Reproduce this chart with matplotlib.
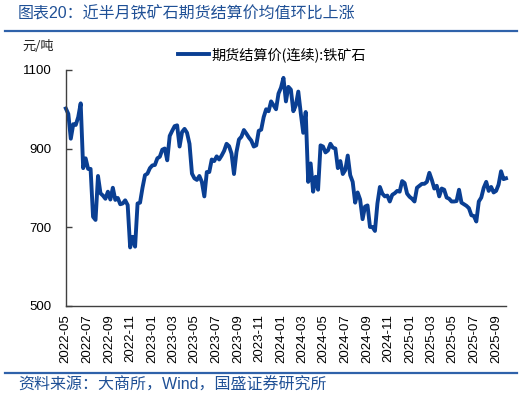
import matplotlib
matplotlib.use("Agg")
import matplotlib.pyplot as plt
import pandas as pd

plt.rcParams['font.family'] = ['Liberation Sans', 'Noto Sans CJK SC', 'DejaVu Sans']

title = "图表20：近半月铁矿石期货结算价均值环比上涨"
source = "资料来源：大商所，Wind，国盛证券研究所"
unit = "元/吨"
series_name = "期货结算价(连续):铁矿石"

# weekly observations (Mondays) from 2022-05-02
start_date = "2022-05-02"
values = [
    1002, 988, 925, 962, 960, 980, 1015, 850, 875, 848,
    848, 726, 718, 830, 786, 780, 772, 790, 770, 800,
    769, 774, 758, 760, 768, 756, 648, 675, 650, 760,
    762, 800, 832, 836, 850, 857, 858, 875, 879, 897,
    900, 870, 932, 945, 957, 959, 905, 942, 950, 940,
    912, 836, 824, 820, 830, 815, 778, 840, 840, 872,
    868, 880, 872, 882, 894, 912, 906, 887, 835, 891,
    923, 930, 947, 938, 928, 920, 905, 908, 945, 948,
    980, 1000, 995, 1020, 1010, 1000, 1040, 1055, 1080, 1020,
    1057, 1050, 995, 1010, 1045, 990, 940, 993, 815, 862,
    790, 828, 795, 908, 905, 890, 895, 912, 902, 900,
    850, 868, 835, 845, 882, 832, 815, 762, 788, 770,
    720, 752, 755, 700, 700, 690, 760, 802, 785, 778,
    780, 765, 782, 786, 792, 790, 817, 812, 785, 777,
    772, 765, 800, 805, 810, 810, 815, 838, 820, 798,
    805, 778, 798, 795, 775, 772, 765, 765, 766, 795,
    762, 758, 754, 748, 730, 728, 714, 765, 775, 800,
    815, 792, 802, 788, 792, 808, 842, 822, 824,
]
dates = pd.date_range(start_date, periods=len(values), freq="7D")

y_ticks = [500, 700, 900, 1100]
x_tick_labels = ["2022-05", "2022-07", "2022-09", "2022-11", "2023-01", "2023-03",
                 "2023-05", "2023-07", "2023-09", "2023-11", "2024-01", "2024-03",
                 "2024-05", "2024-07", "2024-09", "2024-11", "2025-01", "2025-03",
                 "2025-05", "2025-07", "2025-09"]

W, H = 526, 398
fig = plt.figure(figsize=(W / 100, H / 100), dpi=100)
ax = fig.add_axes([65.5 / W, (H - 305.5) / H, (506 - 65.5) / W, (305.5 - 70) / H])

line_color = "#0a3f93"
ax.plot(dates, values, color=line_color, lw=2.8, solid_joinstyle="round",
        label=series_name, clip_on=False)

ax.set_ylim(500, 1100)
ax.set_yticks(y_ticks)
ax.set_yticklabels([str(v) for v in y_ticks], fontsize=9.5)
tick_dates = pd.to_datetime([s + "-01" for s in x_tick_labels])
ax.set_xticks(tick_dates)
ax.set_xticklabels(x_tick_labels, rotation=90, fontsize=9.5)
ax.set_xlim(pd.Timestamp("2022-05-01"), dates[-1])

for s in ["top", "right"]:
    ax.spines[s].set_visible(False)
for s in ["left", "bottom"]:
    ax.spines[s].set_color("#404040")
    ax.spines[s].set_linewidth(1.0)
ax.tick_params(axis="y", direction="in", length=4, width=1, color="#404040", pad=10)
ax.tick_params(axis="x", length=0, pad=6)

leg = ax.legend(loc="upper left", bbox_to_anchor=(0.226, 1.15), frameon=False,
                handlelength=2.2, handletextpad=0.2,
                prop={'family': ['Noto Sans CJK SC', 'DejaVu Sans'], 'size': 10.2})

fig.text(18 / W, 1 - 14 / H, title, fontsize=11.5, color="#1f5096",
         va="center", ha="left")
fig.text(22 / W, 1 - 47 / H, unit, fontsize=9.5, color="#222222",
         va="center", ha="left", family=['Noto Sans CJK SC', 'DejaVu Sans'])
fig.text(18 / W, 1 - 385 / H, source, fontsize=11.5, color="#1f5096",
         va="center", ha="left")

fig.add_artist(plt.Line2D([5 / W, 517 / W], [1 - 31 / H, 1 - 31 / H],
                          color="#2f62aa", lw=1.6, transform=fig.transFigure))
fig.add_artist(plt.Line2D([5 / W, 517 / W], [1 - 372.5 / H, 1 - 372.5 / H],
                          color="#2f62aa", lw=1.6, transform=fig.transFigure))

fig.savefig("out.png", dpi=100)
